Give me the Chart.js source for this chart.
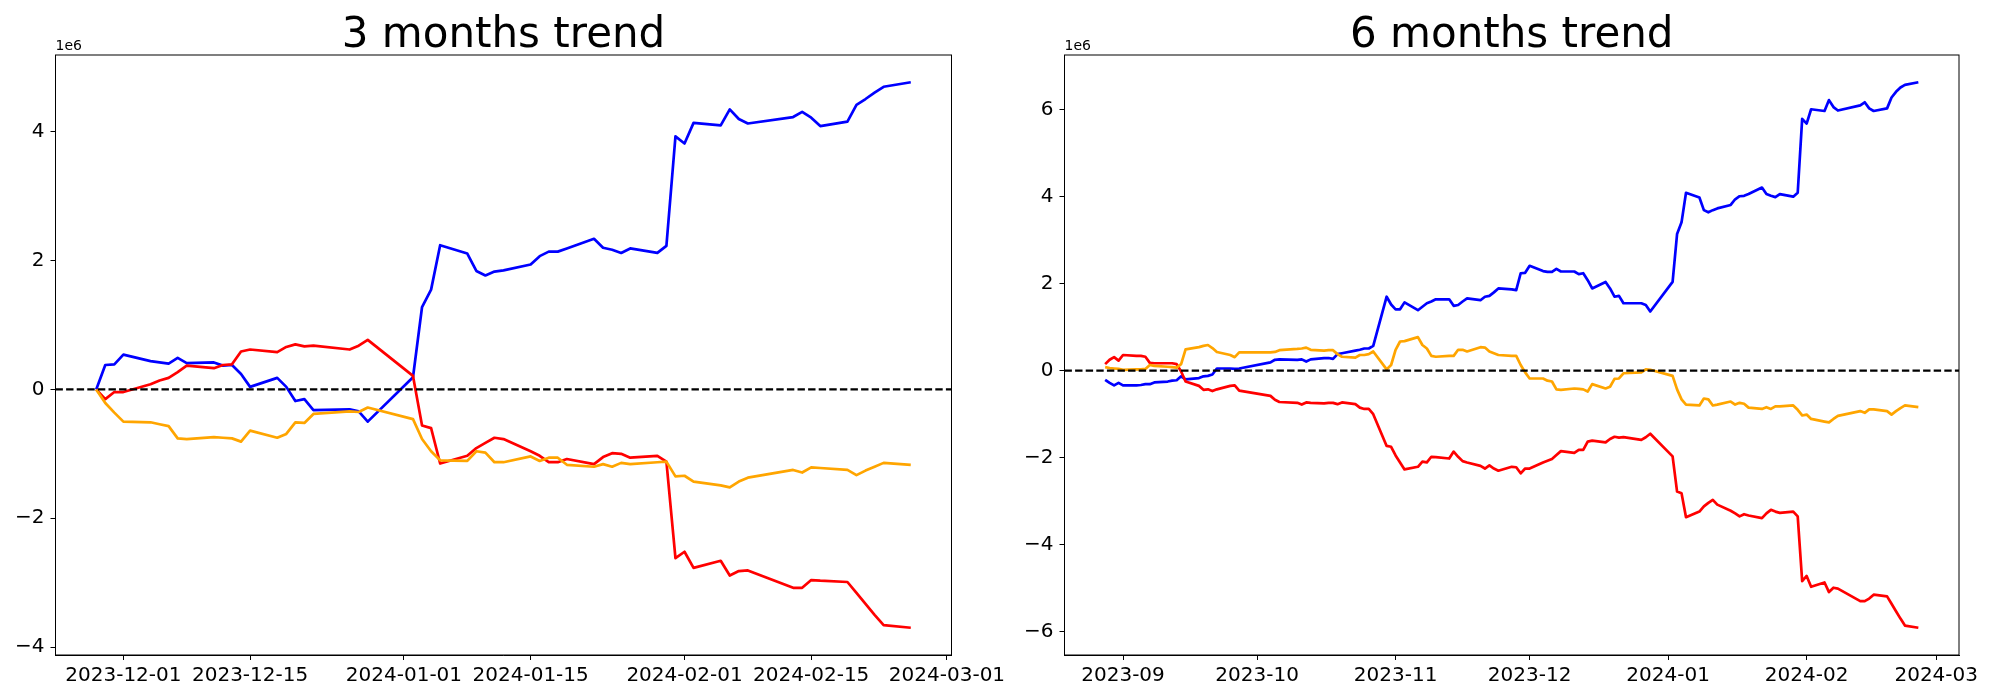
<!DOCTYPE html>
<html>
<head>
<meta charset="utf-8">
<script src="https://cdn.jsdelivr.net/npm/chart.js@4.4.1/dist/chart.umd.min.js"></script>
<style>
    body { margin: 0; background: #fff; }
    #wrap { position: relative; width: 2000px; height: 700px; }
    canvas { position: absolute; top: 0; }
    #chart3m { left: 0; }
    #chart6m { left: 1000px; }
</style>
</head>
<body>
<div id="wrap">
    <canvas id="chart6m" width="1000" height="700"></canvas>
    <canvas id="chart3m" width="1020" height="700"></canvas>
</div>
<script>
// values are in 1e6

// 3 months
let dates3m = ['2023-11-28', '2023-11-29', '2023-11-30', '2023-12-01', '2023-12-04', '2023-12-05', '2023-12-06', '2023-12-07', '2023-12-08',
    '2023-12-11', '2023-12-12', '2023-12-13', '2023-12-14', '2023-12-15', '2023-12-18', '2023-12-19', '2023-12-20', '2023-12-21', '2023-12-22',
    '2023-12-26', '2023-12-27', '2023-12-28', '2024-01-02', '2024-01-03', '2024-01-04', '2024-01-05', '2024-01-08', '2024-01-09', '2024-01-10',
    '2024-01-11', '2024-01-12', '2024-01-15', '2024-01-16', '2024-01-17', '2024-01-18', '2024-01-19', '2024-01-22', '2024-01-23', '2024-01-24',
    '2024-01-25', '2024-01-26', '2024-01-29', '2024-01-30', '2024-01-31', '2024-02-01', '2024-02-02', '2024-02-05', '2024-02-06', '2024-02-07',
    '2024-02-08', '2024-02-13', '2024-02-14', '2024-02-15', '2024-02-16', '2024-02-19', '2024-02-20', '2024-02-21', '2024-02-22', '2024-02-23',
    '2024-02-26'];
let blue3m = [0.00, 0.38, 0.39, 0.54, 0.44, 0.42, 0.40, 0.49, 0.41, 0.42, 0.37, 0.38, 0.24, 0.04, 0.18, 0.04, -0.18, -0.15, -0.32, -0.31,
    -0.34, -0.50, 0.19, 1.28, 1.55, 2.24, 2.11, 1.84, 1.77, 1.83, 1.85, 1.94, 2.07, 2.14, 2.14, 2.19, 2.34, 2.20, 2.17, 2.12,
    2.19, 2.12, 2.23, 3.93, 3.82, 4.14, 4.10, 4.35, 4.20, 4.13, 4.23, 4.31, 4.22, 4.09, 4.16, 4.42, 4.51, 4.61, 4.70, 4.77];
let red3m = [0.00, -0.15, -0.04, -0.04, 0.08, 0.14, 0.18, 0.27, 0.37, 0.33, 0.38, 0.39, 0.59, 0.62, 0.58, 0.66, 0.70, 0.67, 0.68, 0.62,
    0.68, 0.77, 0.21, -0.56, -0.60, -1.15, -1.03, -0.91, -0.83, -0.75, -0.77, -0.96, -1.03, -1.13, -1.13, -1.08, -1.16, -1.05, -0.99, -1.00,
    -1.06, -1.03, -1.12, -2.62, -2.52, -2.77, -2.66, -2.89, -2.82, -2.81, -3.08, -3.08, -2.96, -2.97, -2.99, -3.16, -3.33, -3.50, -3.66, -3.70];
let orange3m = [0.00, -0.21, -0.36, -0.50, -0.51, -0.54, -0.57, -0.76, -0.77, -0.74, -0.75, -0.76, -0.81, -0.64, -0.75, -0.69, -0.51, -0.52, -0.38, -0.34,
    -0.35, -0.28, -0.46, -0.77, -0.96, -1.10, -1.11, -0.96, -0.98, -1.13, -1.13, -1.04, -1.11, -1.06, -1.06, -1.17, -1.20, -1.16, -1.20, -1.14,
    -1.16, -1.13, -1.12, -1.35, -1.34, -1.43, -1.49, -1.52, -1.43, -1.37, -1.25, -1.29, -1.21, -1.22, -1.25, -1.33, -1.26, -1.20, -1.14, -1.17];
let xTicks3m = ['2023-12-01', '2023-12-15', '2024-01-01', '2024-01-15', '2024-02-01', '2024-02-15', '2024-03-01'];
let yTicks3m = [-4, -2, 0, 2, 4];

// 6 months
let dates6m = ['2023-08-28', '2023-08-29', '2023-08-30', '2023-08-31',
    '2023-09-01', '2023-09-04', '2023-09-05', '2023-09-06', '2023-09-07', '2023-09-08', '2023-09-11', '2023-09-12', '2023-09-13', '2023-09-14',
    '2023-09-15', '2023-09-18', '2023-09-19', '2023-09-20', '2023-09-21', '2023-09-22', '2023-09-25', '2023-09-26', '2023-09-27',
    '2023-10-04', '2023-10-05', '2023-10-06', '2023-10-10', '2023-10-11', '2023-10-12', '2023-10-13', '2023-10-16', '2023-10-17', '2023-10-18',
    '2023-10-19', '2023-10-20', '2023-10-23', '2023-10-24', '2023-10-25', '2023-10-26', '2023-10-27', '2023-10-30', '2023-10-31',
    '2023-11-01', '2023-11-02', '2023-11-03', '2023-11-06', '2023-11-07', '2023-11-08', '2023-11-09', '2023-11-10', '2023-11-13', '2023-11-14',
    '2023-11-15', '2023-11-16', '2023-11-17', '2023-11-20', '2023-11-21', '2023-11-22', '2023-11-23', '2023-11-24', '2023-11-27', '2023-11-28',
    '2023-11-29', '2023-11-30',
    '2023-12-01', '2023-12-04', '2023-12-05', '2023-12-06', '2023-12-07', '2023-12-08', '2023-12-11', '2023-12-12', '2023-12-13', '2023-12-14',
    '2023-12-15', '2023-12-18', '2023-12-19', '2023-12-20', '2023-12-21', '2023-12-22', '2023-12-26', '2023-12-27', '2023-12-28',
    '2024-01-02', '2024-01-03', '2024-01-04', '2024-01-05', '2024-01-08', '2024-01-09', '2024-01-10', '2024-01-11', '2024-01-12', '2024-01-15',
    '2024-01-16', '2024-01-17', '2024-01-18', '2024-01-19', '2024-01-22', '2024-01-23', '2024-01-24', '2024-01-25', '2024-01-26', '2024-01-29',
    '2024-01-30', '2024-01-31',
    '2024-02-01', '2024-02-02', '2024-02-05', '2024-02-06', '2024-02-07', '2024-02-08', '2024-02-13', '2024-02-14', '2024-02-15', '2024-02-16',
    '2024-02-19', '2024-02-20', '2024-02-21', '2024-02-22', '2024-02-23', '2024-02-26'];
let blue6m = [-0.21, -0.28, -0.34, -0.28,
    -0.34, -0.34, -0.33, -0.31, -0.31, -0.27, -0.25, -0.23, -0.22, -0.13, -0.20, -0.17, -0.13, -0.12, -0.09, 0.05, 0.05, 0.04, 0.05,
    0.19, 0.25, 0.26, 0.25, 0.26, 0.21, 0.26, 0.29, 0.29, 0.27, 0.38, 0.40, 0.46, 0.48, 0.51, 0.51, 0.57, 1.70, 1.52,
    1.41, 1.41, 1.57, 1.39, 1.47, 1.55, 1.59, 1.64, 1.64, 1.49, 1.51, 1.59, 1.66, 1.62, 1.70, 1.72, 1.80, 1.89, 1.87, 1.85, 2.24, 2.25,
    2.41, 2.29, 2.27, 2.27, 2.34, 2.28, 2.28, 2.22, 2.24, 2.08, 1.89, 2.04, 1.89, 1.70, 1.72, 1.55, 1.55, 1.51, 1.36,
    2.04, 3.14, 3.41, 4.09, 3.98, 3.69, 3.64, 3.69, 3.73, 3.81, 3.94, 4.01, 4.02, 4.06, 4.21, 4.06, 4.02, 3.99, 4.06, 4.00, 4.09, 5.79,
    5.68, 6.01, 5.97, 6.22, 6.06, 5.98, 6.10, 6.17, 6.03, 5.97, 6.03, 6.28, 6.41, 6.51, 6.57, 6.63];
let red6m = [0.15, 0.25, 0.31, 0.23,
    0.36, 0.34, 0.34, 0.32, 0.18, 0.17, 0.17, 0.17, 0.15, -0.02, -0.25, -0.35, -0.44, -0.43, -0.47, -0.43, -0.35, -0.34, -0.46,
    -0.58, -0.67, -0.72, -0.74, -0.78, -0.73, -0.74, -0.75, -0.74, -0.74, -0.77, -0.73, -0.77, -0.85, -0.88, -0.88, -1.00, -1.73, -1.75,
    -1.95, -2.11, -2.27, -2.21, -2.09, -2.11, -1.98, -1.99, -2.02, -1.86, -1.98, -2.08, -2.11, -2.19, -2.25, -2.18, -2.25, -2.30, -2.21, -2.22, -2.36, -2.25,
    -2.25, -2.11, -2.07, -2.03, -1.94, -1.85, -1.89, -1.82, -1.82, -1.63, -1.61, -1.65, -1.57, -1.52, -1.54, -1.53, -1.59, -1.53, -1.45,
    -1.97, -2.78, -2.82, -3.37, -3.24, -3.12, -3.04, -2.97, -3.08, -3.22, -3.28, -3.35, -3.30, -3.33, -3.39, -3.28, -3.20, -3.24, -3.27, -3.24, -3.35, -4.84,
    -4.72, -4.97, -4.87, -5.09, -4.99, -5.01, -5.30, -5.30, -5.24, -5.15, -5.19, -5.36, -5.53, -5.70, -5.86, -5.91];
let orange6m = [0.08, 0.06, 0.05, 0.04,
    0.02, 0.03, 0.03, 0.04, 0.13, 0.11, 0.09, 0.08, 0.07, 0.15, 0.49, 0.54, 0.57, 0.59, 0.52, 0.43, 0.36, 0.31, 0.42,
    0.42, 0.43, 0.47, 0.50, 0.51, 0.53, 0.48, 0.46, 0.47, 0.47, 0.38, 0.32, 0.30, 0.36, 0.36, 0.38, 0.44, 0.03, 0.13,
    0.48, 0.67, 0.68, 0.77, 0.59, 0.51, 0.34, 0.32, 0.34, 0.34, 0.48, 0.48, 0.44, 0.54, 0.53, 0.44, 0.40, 0.36, 0.34, 0.34, 0.13, -0.04,
    -0.18, -0.18, -0.23, -0.25, -0.43, -0.44, -0.41, -0.42, -0.43, -0.48, -0.31, -0.41, -0.37, -0.19, -0.18, -0.06, -0.04, 0.03, 0.02,
    -0.12, -0.43, -0.66, -0.78, -0.80, -0.64, -0.66, -0.80, -0.78, -0.71, -0.78, -0.74, -0.76, -0.85, -0.88, -0.84, -0.88, -0.82, -0.82, -0.80, -0.90, -1.03,
    -1.01, -1.11, -1.17, -1.19, -1.11, -1.04, -0.93, -0.97, -0.89, -0.89, -0.93, -1.01, -0.93, -0.86, -0.80, -0.84];
let xTicks6m = ['2023-09', '2023-10', '2023-11', '2023-12', '2024-01', '2024-02', '2024-03'];
let yTicks6m = [-6, -4, -2, 0, 2, 4, 6];

window.onload = function () {
    trendChartDraw('chart3m', '3 months trend', dates3m, blue3m, red3m, orange3m, xTicks3m, yTicks3m, 55.5, 68.5);
    trendChartDraw('chart6m', '6 months trend', dates6m, blue6m, red6m, orange6m, xTicks6m, yTicks6m, 64.5, 41);
}

let toDay = function (s) {
    let p = s.split('-');
    return Date.UTC(+p[0], +p[1] - 1, p[2] ? +p[2] : 1) / 86400000;
};

// title, 1e6 offset text and the box around the axes
let frame = {
    id: 'frame',
    afterDraw: function (chart) {
        let ctx = chart.ctx;
        let a = chart.chartArea;
        ctx.save();
        ctx.strokeStyle = '#000';
        ctx.lineWidth = 1;
        ctx.strokeRect(a.left, a.top, a.right - a.left, a.bottom - a.top);
        ctx.fillStyle = '#000';
        ctx.textBaseline = 'alphabetic';
        ctx.font = '42px "DejaVu Sans"';
        ctx.textAlign = 'center';
        ctx.fillText(chart.options.plugins.frame.title, (a.left + a.right) / 2, 47);
        ctx.font = '14px "DejaVu Sans"';
        ctx.textAlign = 'left';
        ctx.fillText('1e6', a.left, 50);
        ctx.restore();
    }
};

let trendChartDraw = function (id, title, dates, blue, red, orange, xTicks, yTicks, yWidth, padRight) {
    let xs = dates.map(toDay);
    let xPad = (xs[xs.length - 1] - xs[0]) * 0.05;
    let xMin = xs[0] - xPad, xMax = xs[xs.length - 1] + xPad;
    let all = blue.concat(red, orange);
    let lo = Math.min.apply(null, all), hi = Math.max.apply(null, all);
    let yPad = (hi - lo) * 0.05;
    let tickVals = xTicks.map(toDay);
    let pts = function (vals) {
        return vals.map(function (v, i) { return {x: xs[i], y: v}; });
    };
    let tickFont = {family: 'DejaVu Sans', size: 20};

    let painter = document.getElementById(id).getContext('2d');
    new Chart(painter, {
        type: 'line',
        data: {
            datasets: [
                {data: [{x: xMin, y: 0}, {x: xMax, y: 0}], borderColor: '#000', borderWidth: 2.2, borderDash: [7.4, 3.2], order: 1},
                {data: pts(orange), borderColor: 'orange', order: 2},
                {data: pts(red), borderColor: 'red', order: 3},
                {data: pts(blue), borderColor: 'blue', order: 4},
            ]
        },
        options: {
            responsive: false,
            animation: false,
            layout: {padding: {top: 55, right: padRight, left: 0, bottom: 0}},
            elements: {
                point: {radius: 0},
                line: {borderWidth: 2.7, tension: 0, borderJoinStyle: 'round'},
            },
            scales: {
                x: {
                    type: 'linear',
                    min: xMin,
                    max: xMax,
                    afterFit: function (s) { s.height = 45; },
                    afterBuildTicks: function (s) {
                        s.ticks = tickVals.map(function (v) { return {value: v}; });
                    },
                    ticks: {
                        autoSkip: false, maxRotation: 0, padding: 4, color: '#000', font: tickFont,
                        callback: function (v) { return xTicks[tickVals.indexOf(v)]; }
                    },
                    grid: {drawOnChartArea: false, tickLength: 5, color: '#000'},
                    border: {color: '#000'},
                },
                y: {
                    min: lo - yPad,
                    max: hi + yPad,
                    afterFit: function (s) { s.width = yWidth; },
                    afterBuildTicks: function (s) {
                        s.ticks = yTicks.map(function (v) { return {value: v}; });
                    },
                    ticks: {
                        padding: 6, color: '#000', font: tickFont,
                        callback: function (v) { return v < 0 ? '\u2212' + Math.abs(v) : String(v); }
                    },
                    grid: {drawOnChartArea: false, tickLength: 5, color: '#000'},
                    border: {color: '#000'},
                }
            },
            plugins: {
                legend: {display: false},
                tooltip: {enabled: false},
                frame: {title: title},
            },
        },
        plugins: [frame],
    });
};
</script>
</body>
</html>
